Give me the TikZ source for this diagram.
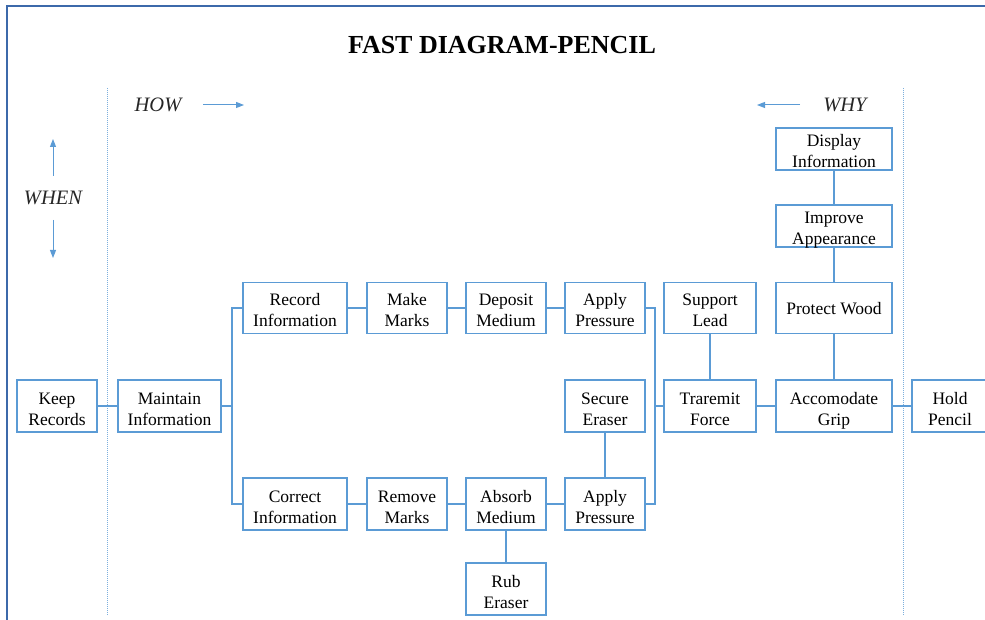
\documentclass[tikz,border=0pt]{standalone}
\usepackage{fontspec}
\setmainfont{Liberation Serif}
\usetikzlibrary{arrows.meta}
\definecolor{boxblue}{RGB}{91,155,213}
\definecolor{frameblue}{RGB}{60,105,170}
\begin{document}
\begin{tikzpicture}[x=1pt,y=-1pt,
  fbox/.style={draw=boxblue,line width=1.5pt,fill=white,align=center,
    font=\fontsize{17.5}{21}\selectfont,inner sep=0pt,
    text height=45pt,text depth=7pt},
  tall/.style={text height=44pt,text depth=7pt},
  short/.style={text height=39.5pt,text depth=2.5pt},
  single/.style={text height=32pt,text depth=19pt},
  link/.style={draw=boxblue,line width=1.5pt},
  guide/.style={draw=boxblue!80,line width=0.6pt,dash pattern=on 1pt off 1pt},
  dirarrow/.style={draw=boxblue,line width=1pt,-{Triangle[length=8pt,width=6pt]}},
  dirlabel/.style={font=\fontsize{20.5}{24}\selectfont\itshape,text=black!85}]
\useasboundingbox (0,0) rectangle (985,620);
% outer frame
\draw[frameblue,line width=2pt] (985,6) -- (7,6) -- (7,620);
% title
\node[font=\fontsize{26}{30}\selectfont\bfseries] (title) at (502,45) {FAST DIAGRAM-PENCIL};
% scope lines
\coordinate (gl1) at (107,88); \coordinate (gl2) at (107,616);
\coordinate (gr1) at (903,88); \coordinate (gr2) at (903,616);
\draw[guide] (gl1) -- (gl2);
\draw[guide] (gr1) -- (gr2);
% direction labels
\node[dirlabel] (how) at (158,105) {HOW};
\coordinate (howa) at (203,105); \coordinate (howb) at (244,105);
\draw[dirarrow] (howa) -- (howb);
\node[dirlabel] (why) at (845,105) {WHY};
\coordinate (whya) at (800,105); \coordinate (whyb) at (757,105);
\draw[dirarrow] (whya) -- (whyb);
\node[dirlabel] (when) at (53,198) {WHEN};
\coordinate (wu1) at (53,176); \coordinate (wu2) at (53,139);
\coordinate (wd1) at (53,220); \coordinate (wd2) at (53,258);
\draw[dirarrow] (wu1) -- (wu2);
\draw[dirarrow] (wd1) -- (wd2);
% function boxes
\node[fbox,minimum width=80pt] (keep) at (57,406) {Keep\\Records};
\node[fbox,minimum width=103pt] (maint) at (169.5,406) {Maintain\\Information};
\node[fbox,tall,minimum width=104pt] (record) at (295,308) {Record\\Information};
\node[fbox,tall,minimum width=80pt] (make) at (407,308) {Make\\Marks};
\node[fbox,tall,minimum width=80pt] (deposit) at (506,308) {Deposit\\Medium};
\node[fbox,tall,minimum width=80pt] (applyt) at (605,308) {Apply\\Pressure};
\node[fbox,tall,minimum width=92pt] (support) at (710,308) {Support\\Lead};
\node[fbox,single,minimum width=116pt] (protect) at (834,308) {Protect Wood};
\node[fbox,short,minimum width=116pt] (display) at (834,149) {Display\\Information};
\node[fbox,short,minimum width=116pt] (improve) at (834,226) {Improve\\Appearance};
\node[fbox,minimum width=80pt] (secure) at (605,406) {Secure\\Eraser};
\node[fbox,minimum width=92pt] (force) at (710,406) {Traremit\\Force};
\node[fbox,minimum width=116pt] (grip) at (834,406) {Accomodate\\Grip};
\node[fbox,minimum width=76pt] (hold) at (950,406) {Hold\\Pencil};
\node[fbox,minimum width=104pt] (correct) at (295,504) {Correct\\Information};
\node[fbox,minimum width=80pt] (remove) at (407,504) {Remove\\Marks};
\node[fbox,minimum width=80pt] (absorb) at (506,504) {Absorb\\Medium};
\node[fbox,minimum width=80pt] (applyb) at (605,504) {Apply\\Pressure};
\node[fbox,minimum width=80pt] (rub) at (506,589) {Rub\\Eraser};
% connectors
\coordinate (busl) at (232,406);
\coordinate (busr) at (655,406);
\draw[link] (keep) -- (maint);
\draw[link] (maint.east) -- (busl);
\draw[link] (record.west) -| (busl) |- (correct.west);
\draw[link] (record) -- (make);
\draw[link] (make) -- (deposit);
\draw[link] (deposit) -- (applyt);
\draw[link] (correct) -- (remove);
\draw[link] (remove) -- (absorb);
\draw[link] (absorb) -- (applyb);
\draw[link] (absorb) -- (rub);
\draw[link] (applyt.east) -| (busr) |- (applyb.east);
\draw[link] (busr) -- (force.west);
\draw[link] (secure) -- (applyb);
\draw[link] (support) -- (force);
\draw[link] (force) -- (grip);
\draw[link] (grip) -- (hold);
\draw[link] (protect) -- (grip);
\draw[link] (improve) -- (protect);
\draw[link] (display) -- (improve);
\end{tikzpicture}
\end{document}
